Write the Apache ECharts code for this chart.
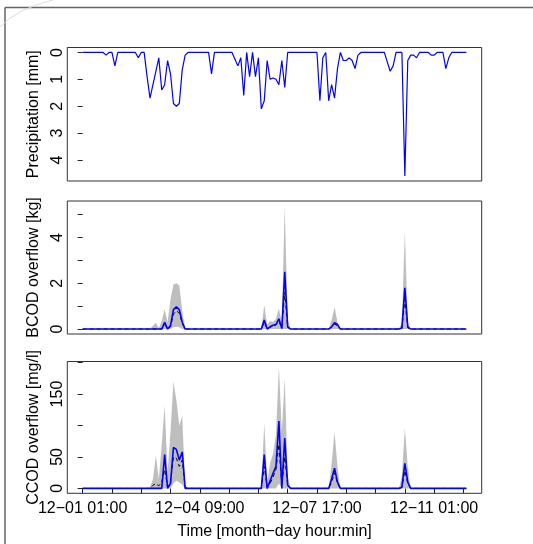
<!DOCTYPE html>
<html><head><meta charset="utf-8">
<script src="https://cdn.jsdelivr.net/npm/echarts@6/dist/echarts.min.js"></script>
<style>html,body{margin:0;padding:0;background:#fff}#c{width:533px;height:544px}</style>
</head><body><div id="c"></div>
<script>
// sampling step of the series (hours from 12-01 01:00)
const STEP_HOURS = 2;

// Precipitation [mm]
const precipitation = [
  0,0,0,0,0,0,0,0,0.1,0,0,0.5,
  0,0,0,0,0,0,0,0.2,0,0,0.9,1.7,
  1.2,0.7,0.2,1.4,1.2,0.3,0.8,1.9,2.0,1.9,0.65,0.1,
  0,0,0,0,0,0,0,0,0.8,0,0,0,
  0,0,0,0,0.25,0.5,0.2,1.6,0,0.9,0,0.9,
  0.2,2.1,1.8,0.3,1.0,0.95,1.0,1.2,0.3,1.3,0,0,
  0,0,0,0,0,0,0,0,0,1.8,0.2,0,
  1.8,1.2,1.7,0.6,0,0.3,0.3,0.2,0.3,0.6,0.1,0,
  0,0,0,0,0,0,0,0,0.35,0.7,0.5,0,
  0,0,4.6,0.3,0.1,0.1,0.2,0,0,0,0,0.1,
  0.1,0,0,0,0.6,0.2,0,0,0,0,0,0
];

// BCOD overflow [kg]
const bcodMedian = [
  0,0,0,0,0,0,0,0,0,0,0,0,
  0,0,0,0,0,0,0,0,0,0,0,0,
  0,0,0,0,0.3,0,0.15,0.85,0.97,0.85,0.3,0,
  0,0,0,0,0,0,0,0,0,0,0,0,
  0,0,0,0,0,0,0,0,0,0,0,0,
  0,0,0.4,0,0.1,0.17,0.2,0.45,0.02,2.5,0.1,0,
  0,0,0,0,0,0,0,0,0,0,0,0,
  0,0.1,0.28,0.2,0,0,0,0,0,0,0,0,
  0,0,0,0,0,0,0,0,0,0,0,0,
  0,0.05,1.8,0.1,0,0,0,0,0,0,0,0,
  0,0,0,0,0,0,0,0,0,0,0,0
];
const bcodMean = [
  0,0,0,0,0,0,0,0,0,0,0,0,
  0,0,0,0,0,0,0,0,0,0,0,0,
  0,0,0,0,0.2,0,0.1,0.65,0.8,0.7,0.25,0,
  0,0,0,0,0,0,0,0,0,0,0,0,
  0,0,0,0,0,0,0,0,0,0,0,0,
  0,0,0.3,0,0.08,0.12,0.18,0.35,0.05,1.6,0.08,0,
  0,0,0,0,0,0,0,0,0,0,0,0,
  0,0.08,0.22,0.15,0,0,0,0,0,0,0,0,
  0,0,0,0,0,0,0,0,0,0,0,0,
  0,0.02,1.3,0.05,0,0,0,0,0,0,0,0,
  0,0,0,0,0,0,0,0,0,0,0,0
];
const bcodLower = [
  0,0,0,0,0,0,0,0,0,0,0,0,
  0,0,0,0,0,0,0,0,0,0,0,0,
  0,0,0,0,0,0,0,0.08,0.1,0.08,0,0,
  0,0,0,0,0,0,0,0,0,0,0,0,
  0,0,0,0,0,0,0,0,0,0,0,0,
  0,0,0,0,0,0,0,0,0,0,0,0,
  0,0,0,0,0,0,0,0,0,0,0,0,
  0,0,0,0,0,0,0,0,0,0,0,0,
  0,0,0,0,0,0,0,0,0,0,0,0,
  0,0,0,0,0,0,0,0,0,0,0,0,
  0,0,0,0,0,0,0,0,0,0,0,0
];
const bcodUpper = [
  0,0,0,0,0,0,0,0,0,0,0,0,
  0,0,0,0,0,0,0,0,0,0,0,0,
  0.15,0.28,0.05,0.35,0.85,0.3,1.3,1.95,2.0,1.9,0.8,0.05,
  0,0,0,0,0,0,0,0,0,0,0,0,
  0,0,0,0,0,0,0,0,0,0,0,0,
  0,0,1.05,0.2,0.35,0.3,0.45,0.9,0.3,5.38,0.4,0,
  0,0,0,0,0,0,0,0,0,0,0,0,
  0,0.4,0.95,0.3,0,0,0,0,0,0,0,0,
  0,0,0,0,0,0,0,0,0,0,0,0,
  0,0.3,4.25,0.3,0,0,0,0,0,0,0,0,
  0,0,0,0,0,0,0,0,0,0,0,0
];

// CCOD overflow [mg/l]
const ccodMedian = [
  0,0,0,0,0,0,0,0,0,0,0,0,
  0,0,0,0,0,0,0,0,0,0,0,0,
  0,0,0,0,54,0,8,65,62,45,58,0,
  0,0,0,0,0,0,0,0,0,0,0,0,
  0,0,0,0,0,0,0,0,0,0,0,0,
  0,0,54,0,12,24,35,107,0,80,5,0,
  0,0,0,0,0,0,0,0,0,0,0,0,
  0,15,32,10,0,0,0,0,0,0,0,0,
  0,0,0,0,0,0,0,0,0,0,0,0,
  0,2,40,10,0,0,0,0,0,0,0,0,
  0,0,0,0,0,0,0,0,0,0,0,0
];
const ccodMean = [
  0,0,0,0,0,0,0,0,0,0,0,0,
  0,0,0,0,0,0,0,0,0,0,0,0,
  5,8,4,10,30,3,10,50,48,35,45,2,
  0,0,0,0,0,0,0,0,0,0,0,0,
  0,0,0,0,0,0,0,0,0,0,0,0,
  0,0,35,2,8,18,30,70,5,50,5,0,
  0,0,0,0,0,0,0,0,0,0,0,0,
  0,10,25,8,0,0,0,0,0,0,0,0,
  0,0,0,0,0,0,0,0,0,0,0,0,
  0,2,28,8,0,0,0,0,0,0,0,0,
  0,0,0,0,0,0,0,0,0,0,0,0
];
const ccodLower = [
  0,0,0,0,0,0,0,0,0,0,0,0,
  0,0,0,0,0,0,0,0,0,0,0,0,
  0,0,0,0,0,0,0,8,12,10,6,0,
  0,0,0,0,0,0,0,0,0,0,0,0,
  0,0,0,0,0,0,0,0,0,0,0,0,
  0,0,0,0,0,0,0,8,0,0,0,0,
  0,0,0,0,0,0,0,0,0,0,0,0,
  0,0,0,0,0,0,0,0,0,0,0,0,
  0,0,0,0,0,0,0,0,0,0,0,0,
  0,0,0,0,0,0,0,0,0,0,0,0,
  0,0,0,0,0,0,0,0,0,0,0,0
];
const ccodUpper = [
  0,0,0,0,0,0,0,0,0,0,0,0,
  0,0,0,0,0,0,0,0,0,0,0,2,
  15,52,15,70,132,25,90,170,140,100,115,3,
  0,0,0,0,0,0,0,0,0,0,0,0,
  0,0,0,0,0,0,0,0,0,0,0,0,
  0,2,104,10,40,55,85,194,90,175,20,0,
  0,0,0,0,0,0,0,0,0,0,0,0,
  0,40,90,35,0,0,0,0,0,0,0,0,
  0,0,0,0,0,0,0,0,0,0,0,0,
  0,20,96,35,0,0,0,0,0,0,0,0,
  0,0,0,0,0,0,0,0,0,0,0,0
];

// axis ticks / labels
const timeTickHours = [0,20,40,60,80,100,120,140,160,180,200,220,240,260];
const timeLabelHours = [0,80,160,240];
const timeLabels = ['12\u221201 01:00','12\u221204 09:00','12\u221207 17:00','12\u221211 01:00'];
const precipTicks = [0,1,2,3,4];
const precipLabels = [0,1,2,3,4];
const bcodTicks = [0,1,2,3,4,5];
const bcodLabels = [0,2,4];
const ccodTicks = [0,50,100,150,200];
const ccodLabels = [0,50,150];

const titles = ['Precipitation [mm]','BCOD overflow [kg]','CCOD overflow [mg/l]'];
const xTitle = 'Time [month\u2212day hour:min]';

// ---------- build ----------
const FONT = 'Liberation Sans, Arial, Helvetica, sans-serif';
const pairs = arr => arr.map((v,i)=>[i*STEP_HOURS, v]);
function padRange(arrs){
  let lo = Infinity, hi = -Infinity;
  arrs.forEach(a=>a.forEach(v=>{ if(v<lo)lo=v; if(v>hi)hi=v; }));
  const p = 0.04*(hi-lo);
  return [lo-p, hi+p];
}
const xr = padRange([[0,(precipitation.length-1)*STEP_HOURS]]);
const pr = padRange([precipitation]);
const br = padRange([bcodLower,bcodUpper,bcodMedian,bcodMean]);
const cr = padRange([ccodLower,ccodUpper,ccodMedian,ccodMean]);

const gridL = 67.3, gridW = 414.4;
const grids = [
  {left:gridL, width:gridW, top:47.5, height:133.5},
  {left:gridL, width:gridW, top:201, height:133},
  {left:gridL, width:gridW, top:361.5, height:131.8}
].map(g=>Object.assign(g,{show:true, borderColor:'#333', borderWidth:1, backgroundColor:'transparent'}));

function xAxisFor(idx, showLabels){
  return {
    type:'value', gridIndex:idx, min:xr[0], max:xr[1],
    axisLine:{show:false}, splitLine:{show:false},
    axisTick:{show:showLabels, customValues:timeTickHours, length:5, lineStyle:{color:'#222', width:1}},
    axisLabel:{show:showLabels, customValues:timeLabelHours, margin:7,
      fontFamily:FONT, fontSize:16, color:'#000',
      formatter:v=>{ const k = timeLabelHours.indexOf(Math.round(v)); return k>=0 ? timeLabels[k] : ''; }},
    name: showLabels ? xTitle : '', nameLocation:'middle', nameGap:30,
    nameTextStyle:{fontFamily:FONT, fontSize:16, color:'#000'}
  };
}
function yAxisFor(idx, range, ticks, labels, title, inverse){
  return {
    type:'value', gridIndex:idx, min:range[0], max:range[1], inverse:!!inverse,
    axisLine:{show:false}, splitLine:{show:false},
    axisTick:{show:true, customValues:ticks, length:5, lineStyle:{color:'#222', width:1}},
    axisLabel:{show:true, customValues:labels, rotate:90, margin:9.5,
      align:'center', verticalAlign:'middle',
      fontFamily:FONT, fontSize:16, color:'#000'},
    name:title, nameLocation:'middle', nameGap:24,
    nameTextStyle:{fontFamily:FONT, fontSize:16, color:'#000'}
  };
}

function bandSeries(idx, lower, upper){
  return {type:'custom', xAxisIndex:idx, yAxisIndex:idx, data:[[0,0]], silent:true, z:1,
    renderItem:(params, api)=>{
      const pts = [];
      upper.forEach((v,i)=>pts.push(api.coord([i*STEP_HOURS, v])));
      for(let i=lower.length-1;i>=0;i--) pts.push(api.coord([i*STEP_HOURS, lower[i]]));
      return {type:'polygon', shape:{points:pts}, style:{fill:'#bebebe', stroke:null}};
    }};
}
function meanSeries(idx, arr){
  return {type:'line', xAxisIndex:idx, yAxisIndex:idx, data:pairs(arr), symbol:'none', silent:true,
    lineStyle:{color:'#000', width:1, type:[4,3]}, z:2};
}
function medianSeries(idx, arr, w){
  return {type:'line', xAxisIndex:idx, yAxisIndex:idx, data:pairs(arr), symbol:'none', silent:true,
    lineStyle:{color:'#0000ff', width:w}, z:3};
}

const option = {
  animation:false,
  backgroundColor:'#fff',
  grid: grids,
  xAxis:[xAxisFor(0,false), xAxisFor(1,false), xAxisFor(2,true)],
  yAxis:[
    yAxisFor(0, pr, precipTicks, precipLabels, titles[0], true),
    yAxisFor(1, br, bcodTicks, bcodLabels, titles[1], false),
    yAxisFor(2, cr, ccodTicks, ccodLabels, titles[2], false)
  ],
  series:[
    medianSeries(0, precipitation, 1.2),
    bandSeries(1, bcodLower, bcodUpper),
    meanSeries(1, bcodMean),
    medianSeries(1, bcodMedian, 1.6),
    bandSeries(2, ccodLower, ccodUpper),
    meanSeries(2, ccodMean),
    medianSeries(2, ccodMedian, 1.6)
  ],
  graphic:[
    {type:'line', shape:{x1:5, y1:7.5, x2:533, y2:7.5}, style:{stroke:'#666', lineWidth:1.5}, silent:true},
    {type:'line', shape:{x1:5, y1:7.5, x2:5, y2:544}, style:{stroke:'#666', lineWidth:1.5}, silent:true},
    {type:'bezierCurve', shape:{x1:0, y1:27, cpx1:16, cpy1:9, x2:53, y2:0}, style:{stroke:'#dcdcdc', lineWidth:1, fill:null}, silent:true}
  ]
};
const chart = echarts.init(document.getElementById('c'), null, {renderer:'canvas'});
chart.setOption(option);
</script>
</body></html>
